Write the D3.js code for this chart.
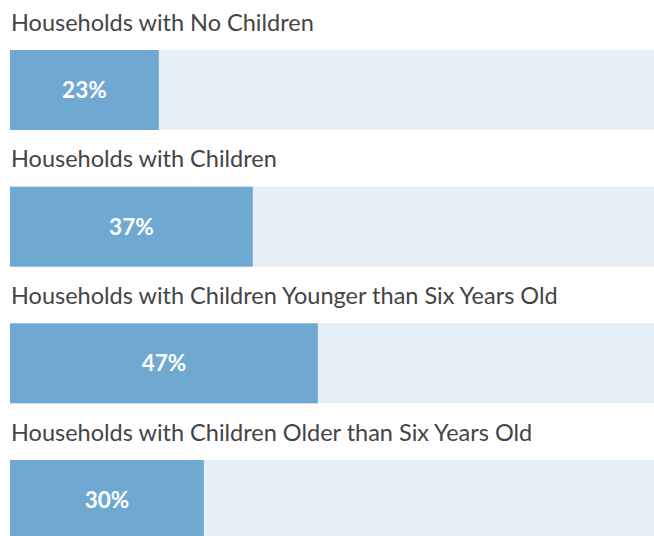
<!DOCTYPE html>
<html>
<head>
<meta charset="utf-8">
<script src="https://cdn.jsdelivr.net/npm/d3@7"></script>
<style>
  html, body { margin: 0; padding: 0; background: #ffffff; }
  svg { display: block; }
</style>
</head>
<body>
<svg id="chart" width="654" height="536"></svg>
<script>
const categories = [
  "Households with No Children",
  "Households with Children",
  "Households with Children Younger than Six Years Old",
  "Households with Children Older than Six Years Old"
];
const values = [23.1, 37.7, 47.8, 30.1];
const valueLabels = ["23%", "37%", "47%", "30%"];

const W = 654, H = 536;
const margin = { left: 10, right: 0, top: 50 };
const barH = 80;
const step = 136.67;

const svg = d3.select("#chart");
const x = d3.scaleLinear().domain([0, 100]).range([margin.left, W - margin.right]);
const y = d3.scalePoint().domain(categories)
  .range([margin.top, margin.top + step * (categories.length - 1)]);

const g = svg.selectAll("g.row").data(categories).join("g").attr("class", "row");

g.append("rect")
  .attr("x", x(0)).attr("y", d => y(d))
  .attr("width", x(100) - x(0)).attr("height", barH)
  .attr("fill", "#e6eef6");

g.append("rect")
  .attr("x", x(0)).attr("y", d => y(d))
  .attr("width", (d, i) => x(values[i]) - x(0)).attr("height", barH)
  .attr("fill", "#6fa9d2");

g.append("text")
  .attr("x", x(0) + 1).attr("y", d => y(d) - 19.5)
  .attr("font-family", "Lato, 'Open Sans', sans-serif")
  .attr("font-size", 23.5).attr("fill", "#444444")
  .text(d => d);

g.append("text")
  .attr("x", (d, i) => (x(0) + x(values[i])) / 2)
  .attr("y", d => y(d) + barH / 2 + 8)
  .attr("text-anchor", "middle")
  .attr("font-family", "Lato, 'Open Sans', sans-serif")
  .attr("font-weight", 700)
  .attr("font-size", 22.5).attr("fill", "#ffffff")
  .text((d, i) => valueLabels[i]);
</script>
</body>
</html>
